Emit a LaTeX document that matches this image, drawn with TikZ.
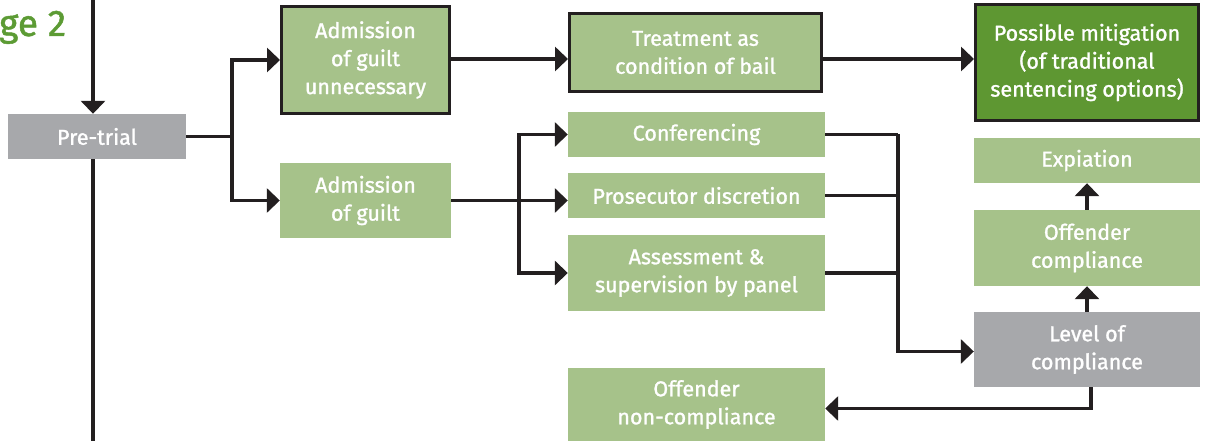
\documentclass[tikz,border=0pt]{standalone}
\usepackage{fontspec}
\setmainfont{Fira Sans}
\newfontfamily\boxfont{Fira Sans}[FakeBold=1.3]
\usetikzlibrary{arrows.meta}
\definecolor{lg}{HTML}{A6C28A}
\definecolor{dg}{HTML}{5E9732}
\definecolor{gy}{HTML}{A7A8AB}
\definecolor{ln}{HTML}{231F20}
\definecolor{tg}{HTML}{5C9B34}
\begin{document}
\begin{tikzpicture}[x=1pt,y=-1pt,
 box/.style={fill=lg, text=white, inner sep=0pt, align=center, font=\boxfont\fontsize{21.5}{28}\selectfont},
 bbox/.style={box, draw=ln, line width=3pt},
 gbox/.style={box, fill=gy},
 conn/.style={draw=ln, line width=3.5pt},
 arr/.style={conn, -{Triangle[length=13pt,width=24pt]}},
]
\useasboundingbox (0,0) rectangle (1208,441);

\node[anchor=base west, text=tg, font=\boxfont\fontsize{37}{40}\selectfont, inner sep=0pt] (title) at (-1,36) {ge 2};

\node[gbox, minimum width=178pt, minimum height=45pt] (pre) at (97,136.5) {Pre-trial};
\node[bbox, minimum width=168pt, minimum height=107pt] (unnec) at (365.5,60) {Admission\\of guilt\\unnecessary};
\node[box, minimum width=171pt, minimum height=75pt] (adm) at (365.5,200.5) {Admission\\of guilt};
\node[bbox, minimum width=252pt, minimum height=78pt] (treat) at (695.5,52.5) {Treatment as\\condition of bail};
\node[bbox, fill=dg, minimum width=223pt, minimum height=116pt] (mitig) at (1087,62.5) {Possible mitigation\\(of traditional\\sentencing options)};
\node[box, minimum width=257pt, minimum height=45pt] (conf) at (696.5,134.5) {Conferencing};
\node[box, minimum width=257pt, minimum height=45pt] (pros) at (696.5,195.5) {Prosecutor discretion};
\node[box, minimum width=257pt, minimum height=76pt] (assess) at (696.5,273) {Assessment \&\\supervision by panel};
\node[box, minimum width=257pt, minimum height=73pt] (nonc) at (696.5,404.5) {Offender\\non-compliance};
\node[box, minimum width=226pt, minimum height=45pt] (expi) at (1087,160.5) {Expiation};
\node[box, minimum width=226pt, minimum height=76pt] (offc) at (1087,248) {Offender\\compliance};
\node[gbox, minimum width=226pt, minimum height=75pt] (level) at (1087,349.5) {Level of\\compliance};

\coordinate (tin) at (93,0);
\coordinate (tout) at (93,441);
\coordinate (r1) at (232,0);
\coordinate (r2) at (519,0);
\coordinate (r3) at (898,0);
\coordinate (ytop) at (0,59);

\draw[arr] (tin) -- (tin |- pre.north);
\draw[conn] (tin |- pre.south) -- (tout);
\draw[conn] (pre.east) -- (r1 |- pre.east);
\draw[arr] (r1 |- pre.east) |- (unnec.west);
\draw[arr] (r1 |- pre.east) |- (adm.west);
\draw[arr] (unnec.east |- ytop) -- (treat.west |- ytop);
\draw[arr] (treat.east |- ytop) -- (mitig.west |- ytop);
\draw[arr] (adm.east) -- (pros.west |- adm.east);
\draw[arr] (r2 |- adm.east) |- (conf.west);
\draw[arr] (r2 |- adm.east) |- (assess.west);
\draw[conn] (conf.east) -- (r3 |- conf.east);
\draw[conn] (pros.east) -- (r3 |- pros.east);
\draw[conn] (assess.east) -- (r3 |- assess.east);
\draw[arr] (r3 |- conf.east) |- ([yshift=-2pt]level.west);
\draw[arr] ([xshift=4pt]level.south) |- ([yshift=-4pt]nonc.east);
\draw[arr] (level.north) -- (offc.south);
\draw[arr] (offc.north) -- (expi.south);
\end{tikzpicture}
\end{document}
